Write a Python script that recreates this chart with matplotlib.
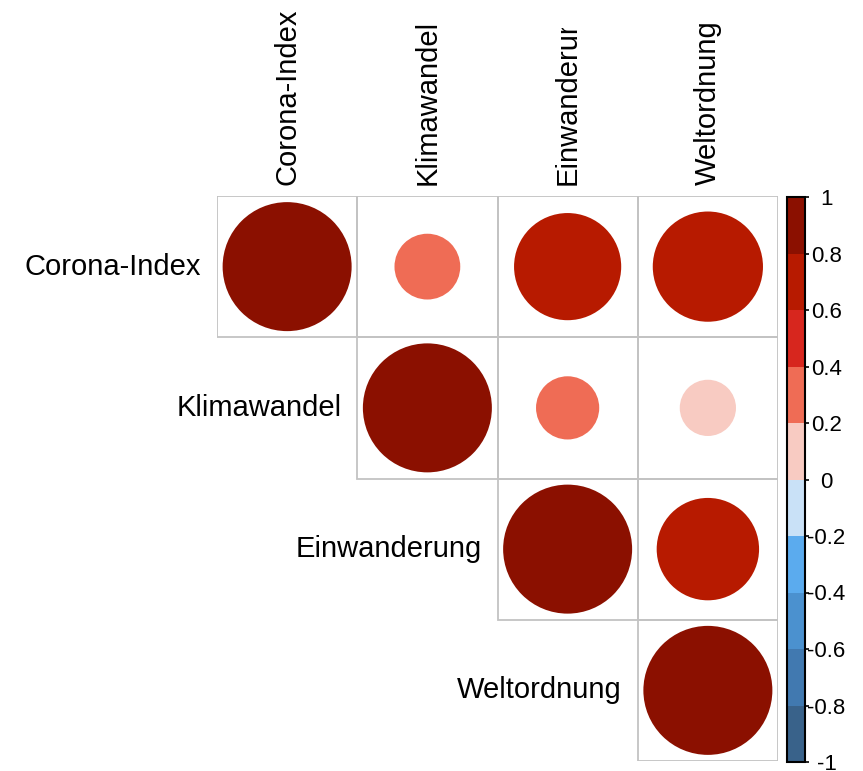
import matplotlib
matplotlib.use('Agg')
import matplotlib.pyplot as plt
from matplotlib.patches import Ellipse, Rectangle
from matplotlib.colors import ListedColormap, BoundaryNorm
from matplotlib.transforms import Bbox
import numpy as np

plt.rcParams['font.family'] = ['Liberation Sans', 'DejaVu Sans']

# ---------------- data ----------------
variables = ["Corona-Index", "Klimawandel", "Einwanderung", "Weltordnung"]
corr_corona = [1.00, 0.26, 0.69, 0.73]
corr_klima = [0.26, 1.00, 0.24, 0.19]
corr_einw = [0.69, 0.24, 1.00, 0.63]
corr_welt = [0.73, 0.19, 0.63, 1.00]
corr = np.array([corr_corona, corr_klima, corr_einw, corr_welt])

bin_edges = [-1.0, -0.8, -0.6, -0.4, -0.2, 0.0, 0.2, 0.4, 0.6, 0.8, 1.0]
bin_colors = ["#39628A", "#4179B0", "#4B91CF", "#5BABEE", "#C9E1F7",
              "#F8CBC2", "#EF6C55", "#D7261E", "#B71A00", "#8B1000"]
cbar_ticks = [-1.0, -0.8, -0.6, -0.4, -0.2, 0.0, 0.2, 0.4, 0.6, 0.8, 1.0]
cbar_labels = ["-1", "-0.8", "-0.6", "-0.4", "-0.2", "0",
               "0.2", "0.4", "0.6", "0.8", "1"]

cmap = ListedColormap(bin_colors)
norm = BoundaryNorm(bin_edges, cmap.N)

W, H = 863, 771
fig = plt.figure(figsize=(W / 100, H / 100), dpi=100)

# main matrix axes (pixel geometry of the reference)
x0, x1, y0, y1 = 217, 778, 196, 761
ax = fig.add_axes([x0 / W, 1 - y1 / H, (x1 - x0) / W, (y1 - y0) / H])
n = len(variables)
ax.set_xlim(0, n)
ax.set_ylim(n, 0)
ax.axis('off')

cell_w = (x1 - x0) / n
cell_h = (y1 - y0) / n
diam_px = 129.0

for i in range(n):
    for j in range(i, n):
        ax.add_patch(Rectangle((j, i), 1, 1, fill=False, ec="#C3C3C3",
                               lw=1.3, zorder=1))
        r = corr[i, j]
        s = np.sqrt(abs(r))
        ax.add_patch(Ellipse((j + 0.5, i + 0.5),
                             width=s * diam_px / cell_w,
                             height=s * diam_px / cell_h,
                             facecolor=cmap(norm(r)), edgecolor='none',
                             zorder=2))

# row labels (left of diagonal)
for i, name in enumerate(variables):
    ax.text(i - 16 / cell_w, i + 0.5, name, ha='right', va='center',
            fontsize=21, color='black')

# column labels (top, rotated)
clip_bbox = Bbox.from_extents(0, 0, W, H - 28)
for j, name in enumerate(variables):
    t = ax.text(j + 0.5, -11 / cell_h, name, rotation=90, ha='center',
                va='bottom', fontsize=21, color='black', clip_on=False)
    if name == "Einwanderung":
        t.set_clip_on(True)
        t.set_clip_box(clip_bbox)

# colorbar
cb_x0, cb_x1, cb_y0, cb_y1 = 787, 805, 197, 762
cax = fig.add_axes([cb_x0 / W, 1 - cb_y1 / H, (cb_x1 - cb_x0) / W,
                    (cb_y1 - cb_y0) / H])
sm = matplotlib.cm.ScalarMappable(norm=norm, cmap=cmap)
cb = fig.colorbar(sm, cax=cax, boundaries=bin_edges, ticks=cbar_ticks)
cb.outline.set_edgecolor('black')
cb.outline.set_linewidth(1.5)
cax.set_yticks(cbar_ticks)
cax.set_yticklabels(cbar_labels)
cax.tick_params(axis='y', direction='out', length=3, width=1.2,
                color='black', labelsize=16, pad=12.5)
for lab in cax.get_yticklabels():
    lab.set_ha('center')
cax.minorticks_off()

fig.savefig("out.png", dpi=100)
